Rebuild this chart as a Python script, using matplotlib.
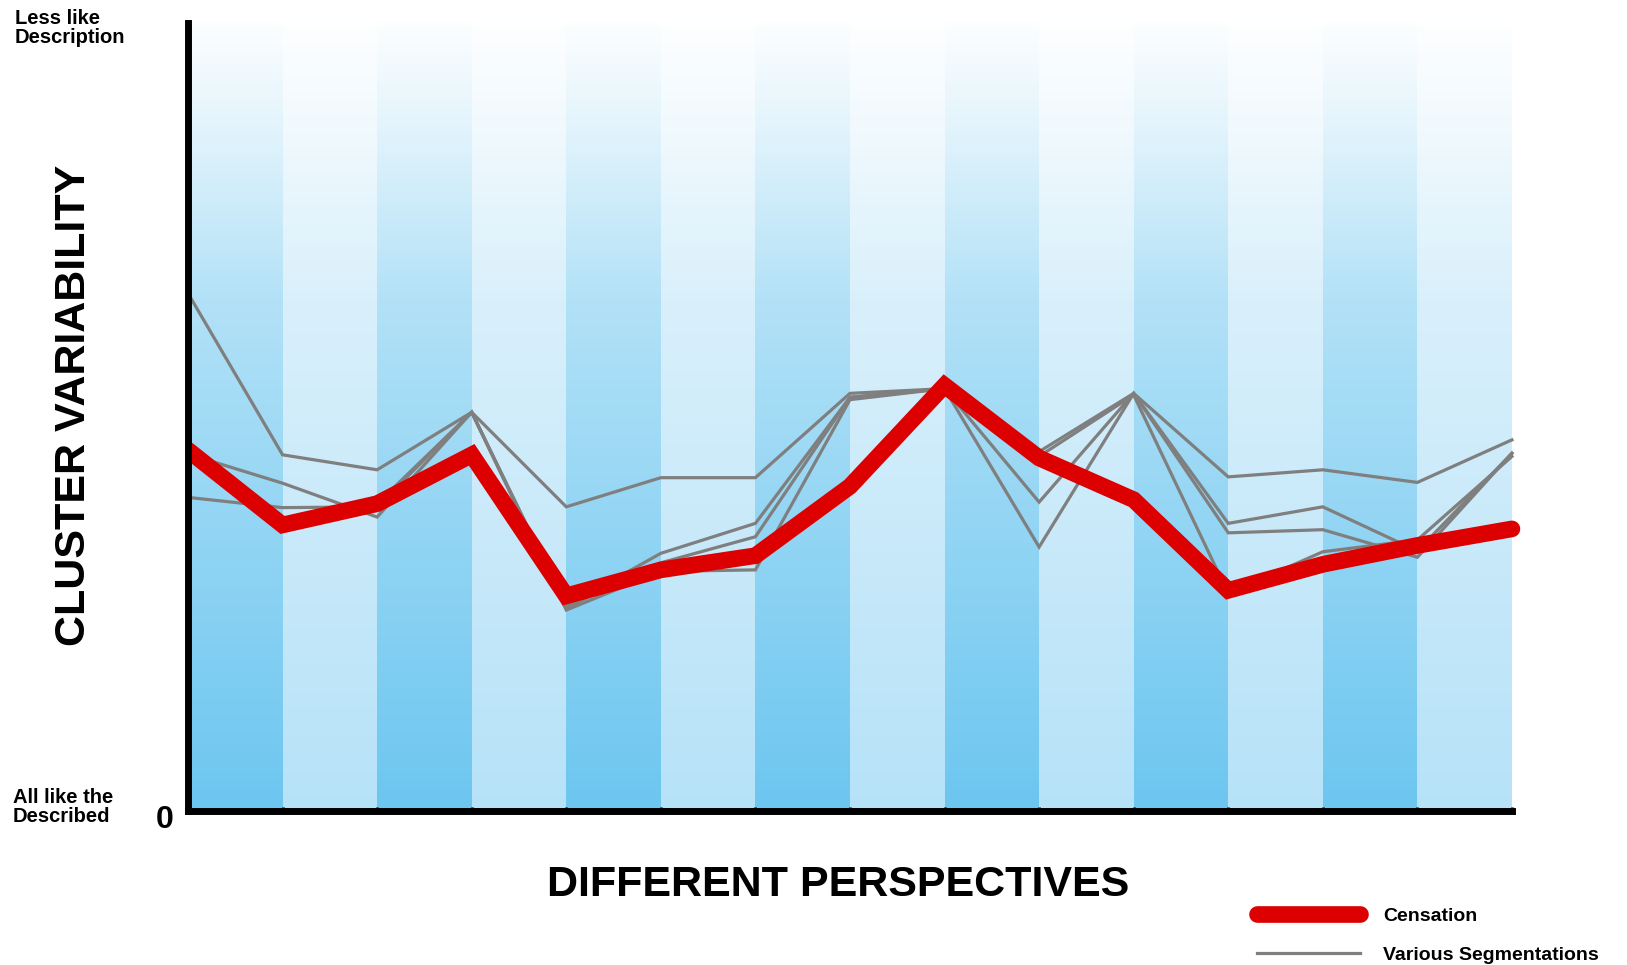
import numpy as np
import matplotlib
matplotlib.use("Agg")
import matplotlib.pyplot as plt
import matplotlib.transforms as mtransforms

plt.rcParams['font.family'] = ['Liberation Sans', 'DejaVu Sans']

# perspectives along the x axis (15 points, 14 stripes)
perspectives = list(range(15))

# Censation (thick red line)
censation = [45.8, 36.3, 39.0, 45.2, 27.3, 30.6, 32.4, 41.2, 54.0, 44.8, 39.5, 28.0, 31.3, 33.7, 35.8]

# various segmentations (thin grey lines)
seg_a = [65.7, 45.2, 43.3, 50.6, 38.6, 42.3, 42.3, 53.0, 53.6, 45.6, 53.0, 42.4, 43.3, 41.7, 47.1]
seg_b = [45.3, 41.6, 37.3, 50.6, 26.0, 32.7, 36.5, 52.5, 53.6, 39.2, 53.0, 36.5, 38.6, 33.0, 45.4]
seg_c = [39.8, 38.5, 38.6, 50.6, 25.8, 31.5, 34.8, 52.5, 53.6, 33.5, 53.0, 35.3, 35.7, 32.2, 45.4]
seg_d = [45.8, 37.0, 39.0, 50.6, 25.5, 30.4, 30.6, 52.2, 53.6, 45.0, 52.8, 27.6, 32.9, 34.4, 45.0]
segmentations = [seg_a, seg_b, seg_c, seg_d]

fig = plt.figure(figsize=(16.27, 9.65), dpi=100)
ax = fig.add_axes([188 / 1627, 1 - 811 / 965, 1333.4 / 1627, 788 / 965])

# vertical gradient stripes (white at top -> blue at bottom)
s = np.linspace(0, 1, 200)[:, None]
t = np.interp(s, [0, 0.27, 0.65, 0.88, 1.0], [1.0, 0.8, 0.52, 0.18, 0.02])
dark = np.array([108, 198, 240]) / 255
light = np.array([182, 226, 248]) / 255
for i in range(14):
    base = dark if i % 2 == 0 else light
    img = 1 - t[..., None] * (1 - base)
    img = np.repeat(img, 2, axis=1)
    ax.imshow(img, extent=[i, i + 1, 0, 100], origin='lower', aspect='auto',
              interpolation='bilinear', zorder=0)

for seg in segmentations:
    ax.plot(perspectives, seg, color='#7f7f7f', lw=2.3, zorder=2,
            solid_joinstyle='miter')
grey_handle, = ax.plot([], [], color='#7f7f7f', lw=2.3)
red_handle, = ax.plot(perspectives, censation, color='#dc0000', lw=12, zorder=3,
                      solid_capstyle='round', solid_joinstyle='miter')

ax.set_xlim(0, 14.1)
ax.set_ylim(0, 100)

for s_ in ['top', 'right']:
    ax.spines[s_].set_visible(False)
for s_ in ['left', 'bottom']:
    ax.spines[s_].set_linewidth(5)
    ax.spines[s_].set_zorder(5)
ax.spines['bottom'].set_bounds(0, 14)
ax.spines['bottom'].set_capstyle('projecting')

ax.set_xticks(range(1, 15))
ax.set_xticklabels([])
ax.tick_params(axis='x', direction='in', length=3, width=2, color='black')
ax.set_yticks([0])
ax.set_yticklabels(['0'], fontsize=23, fontweight='bold')
ax.tick_params(axis='y', length=0, pad=10)
for lab in ax.get_yticklabels():
    lab.set_transform(lab.get_transform() +
                      mtransforms.ScaledTranslation(0, -6 / 100, fig.dpi_scale_trans))

# axis titles
fig.text(838 / 1627, 1 - 885 / 965, 'DIFFERENT PERSPECTIVES', ha='center', va='center',
         fontsize=31, fontweight='bold')
fig.text(74 / 1627, 1 - 405 / 965, 'CLUSTER VARIABILITY', ha='center', va='center',
         rotation=90, fontsize=31, fontweight='bold')
fig.text(15 / 1627, 1 - 9 / 965, 'Less like\nDescription', ha='left', va='top',
         fontsize=14.5, fontweight='bold', linespacing=1.0)
fig.text(13 / 1627, 1 - 788 / 965, 'All like the\nDescribed', ha='left', va='top',
         fontsize=14.5, fontweight='bold', linespacing=1.0)

fig.legend([red_handle, grey_handle], ['Censation', 'Various Segmentations'],
           loc='upper left', bbox_to_anchor=(1257 / 1627, 1 - 907 / 965),
           frameon=False, handlelength=5.3, handletextpad=1.2,
           labelspacing=1.1, borderpad=0, borderaxespad=0,
           prop={'weight': 'bold', 'size': 14})

fig.savefig('out.png', dpi=100)
